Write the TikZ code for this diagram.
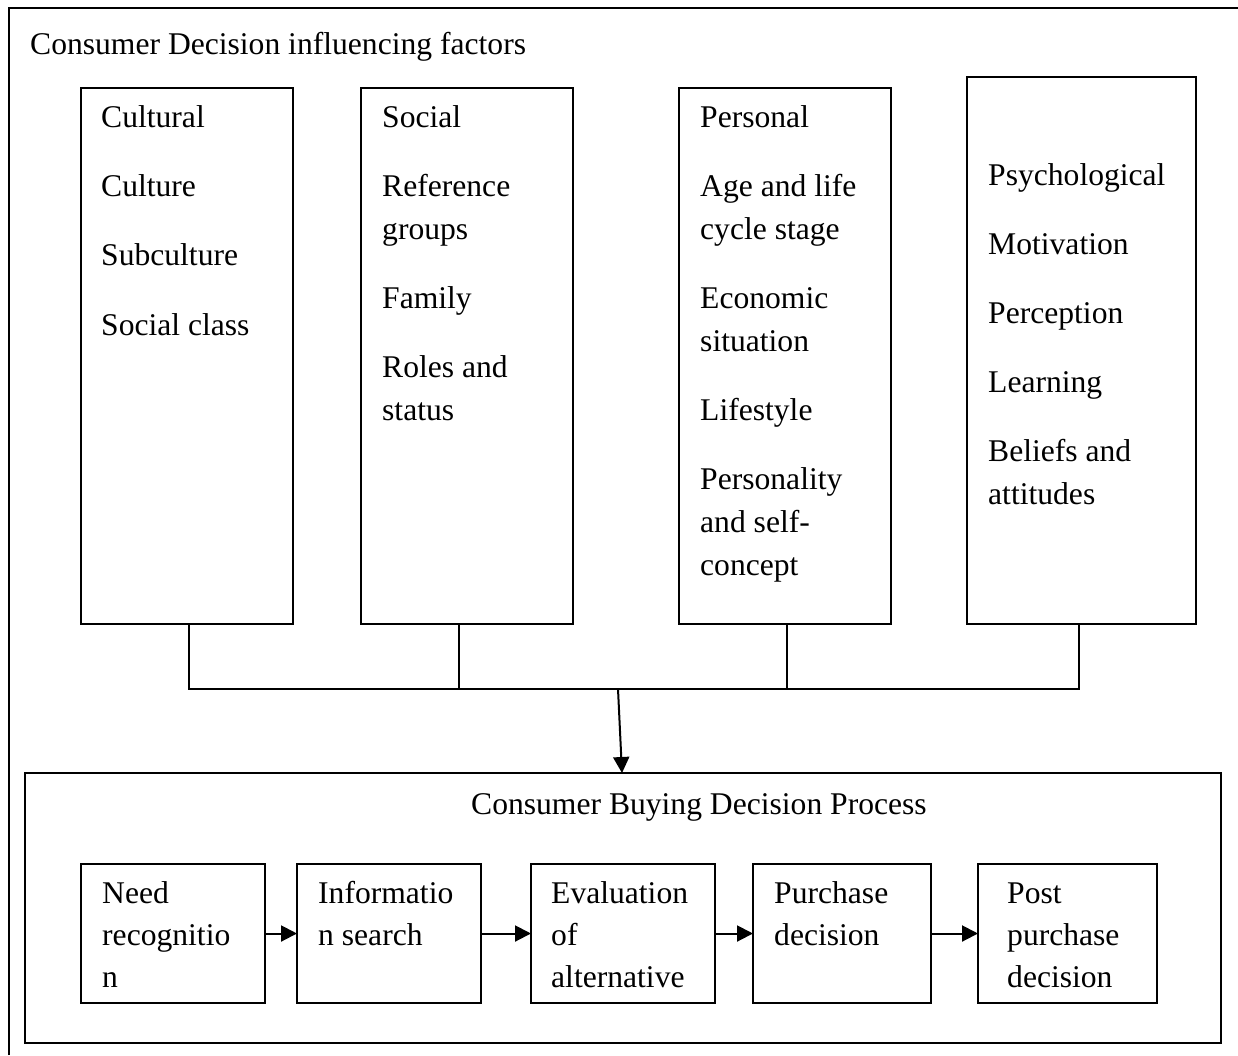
\documentclass[tikz,border=0pt]{standalone}
\usepackage{fontspec}
\setmainfont{Liberation Serif}
\usetikzlibrary{arrows.meta}
\begin{document}
\begin{tikzpicture}[x=1pt,y=-1pt,
  frame/.style={draw, line width=2pt, inner sep=0pt, outer sep=0pt, anchor=north west},
  label/.style={inner sep=0pt, anchor=base west, font=\fontsize{31.6}{43}\selectfont},
  link/.style={line width=2pt},
  arr/.style={line width=2pt, -{Triangle[length=16pt,width=16pt]}}]
\useasboundingbox (0,0) rectangle (1238,1055);
\fill[white] (0,0) rectangle (1238,1055);

% outer page frame (only top and left sides show)
\draw[line width=2pt] (9,1055) -- (9,8) -- (1238,8);
\node[label] (title) at (30,54) {Consumer Decision influencing factors};

% factor boxes
\node[frame, minimum width=212pt, minimum height=536pt] (cult) at (81,88) {};
\node[frame, minimum width=212pt, minimum height=536pt] (soc)  at (361,88) {};
\node[frame, minimum width=212pt, minimum height=536pt] (pers) at (679,88) {};
\node[frame, minimum width=229pt, minimum height=547pt] (psy)  at (967,77) {};

\foreach \t/\y [count=\i] in {Cultural/127, Culture/196, Subculture/265, Social class/335}
  \node[label] (cul-\i) at (101,\y) {\t};
\foreach \t/\y [count=\i] in {Social/127, Reference/196, groups/239, Family/308, Roles and/377, status/420}
  \node[label] (soc-\i) at (382,\y) {\t};
\foreach \t/\y [count=\i] in {Personal/127, Age and life/196, cycle stage/239, Economic/308, situation/351, Lifestyle/420, Personality/489, and self-/532, concept/575}
  \node[label] (per-\i) at (700,\y) {\t};
\foreach \t/\y [count=\i] in {Psychological/185, Motivation/254, Perception/323, Learning/392, Beliefs and/461, attitudes/504}
  \node[label] (psy-\i) at (988,\y) {\t};

% joining bus
\coordinate (j1) at (189,689);
\coordinate (j2) at (459,689);
\coordinate (j3) at (787,689);
\coordinate (j4) at (1079,689);
\coordinate (jm) at (618,689);
\coordinate (tip) at (622,773);
\draw[link] (cult.south -| j1) -- (j1) -- (j4) -- (psy.south -| j4);
\draw[link] (soc.south -| j2) -- (j2);
\draw[link] (pers.south -| j3) -- (j3);

% buying process container
\node[frame, minimum width=1196pt, minimum height=270pt] (proc) at (25,773) {};
\draw[arr] (jm) -- (tip);
\node[label] (ptitle) at (471,814) {Consumer Buying Decision Process};

% process steps
\node[frame, minimum width=184pt, minimum height=139pt] (need) at (81,864) {};
\node[frame, minimum width=184pt, minimum height=139pt] (info) at (297,864) {};
\node[frame, minimum width=184pt, minimum height=139pt] (eval) at (531,864) {};
\node[frame, minimum width=178pt, minimum height=139pt] (purc) at (753,864) {};
\node[frame, minimum width=179pt, minimum height=139pt] (post) at (978,864) {};

\foreach \t/\y [count=\i] in {Need/903, recognitio/945, n/987}
  \node[label] (need-\i) at (102,\y) {\t};
\foreach \t/\y [count=\i] in {Informatio/903, n search/945}
  \node[label] (info-\i) at (318,\y) {\t};
\foreach \t/\y [count=\i] in {Evaluation/903, of/945, alternative/987}
  \node[label] (eval-\i) at (551,\y) {\t};
\foreach \t/\y [count=\i] in {Purchase/903, decision/945}
  \node[label] (purc-\i) at (774,\y) {\t};
\foreach \t/\y [count=\i] in {Post/903, purchase/945, decision/987}
  \node[label] (post-\i) at (1007,\y) {\t};

\draw[arr] (need.east) -- (info.west);
\draw[arr] (info.east) -- (eval.west);
\draw[arr] (eval.east) -- (purc.west);
\draw[arr] (purc.east) -- (post.west);
\end{tikzpicture}
\end{document}
